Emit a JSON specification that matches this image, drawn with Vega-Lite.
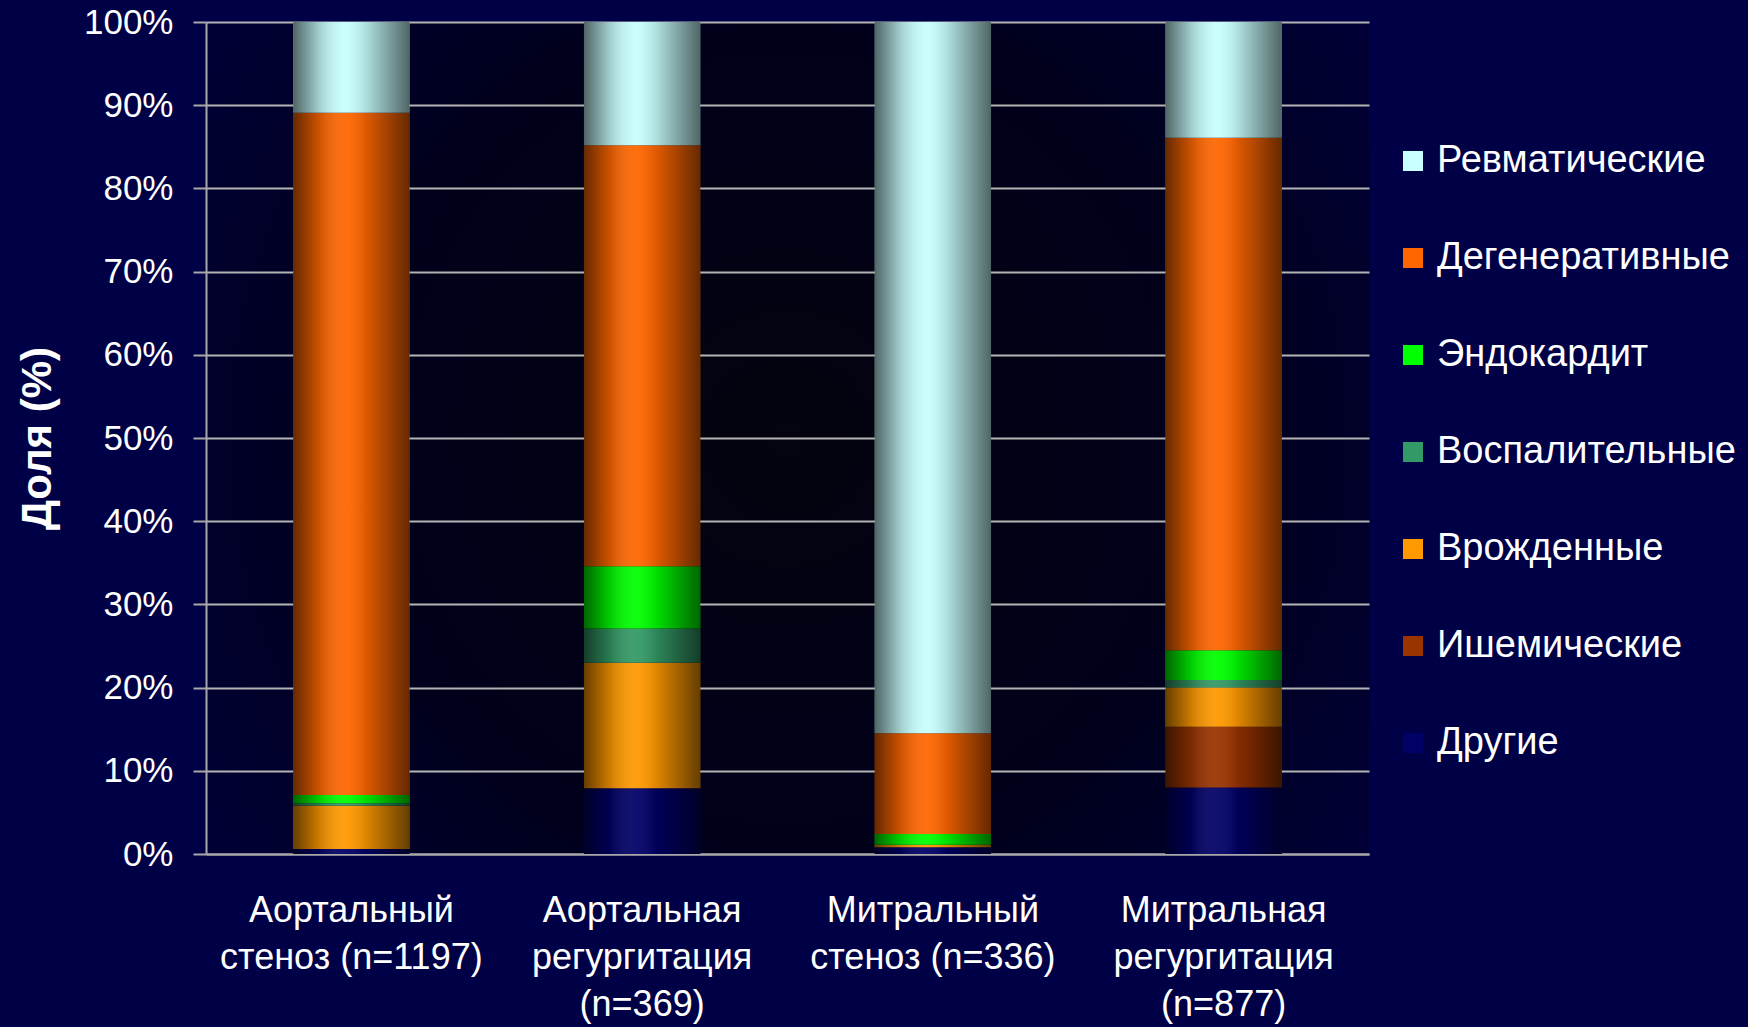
{
  "$schema": "https://vega.github.io/schema/vega-lite/v6.json",
  "autosize": {"type": "none"},
  "padding": {"left": 206, "top": 22, "right": 379, "bottom": 173},
  "width": 1163,
  "height": 832,
  "background": "#000046",
  "datasets": {
    "shares": [
      {"valve": "Аортальный|стеноз (n=1197)", "cause": "Другие", "ord": 1, "pct": 0.6},
      {"valve": "Аортальный|стеноз (n=1197)", "cause": "Врожденные", "ord": 3, "pct": 5.2},
      {"valve": "Аортальный|стеноз (n=1197)", "cause": "Воспалительные", "ord": 4, "pct": 0.3},
      {"valve": "Аортальный|стеноз (n=1197)", "cause": "Эндокардит", "ord": 5, "pct": 1.0},
      {"valve": "Аортальный|стеноз (n=1197)", "cause": "Дегенеративные", "ord": 6, "pct": 82.0},
      {"valve": "Аортальный|стеноз (n=1197)", "cause": "Ревматические", "ord": 7, "pct": 10.9},
      {"valve": "Аортальная|регургитация|(n=369)", "cause": "Другие", "ord": 1, "pct": 7.9},
      {"valve": "Аортальная|регургитация|(n=369)", "cause": "Врожденные", "ord": 3, "pct": 15.1},
      {"valve": "Аортальная|регургитация|(n=369)", "cause": "Воспалительные", "ord": 4, "pct": 4.1},
      {"valve": "Аортальная|регургитация|(n=369)", "cause": "Эндокардит", "ord": 5, "pct": 7.5},
      {"valve": "Аортальная|регургитация|(n=369)", "cause": "Дегенеративные", "ord": 6, "pct": 50.6},
      {"valve": "Аортальная|регургитация|(n=369)", "cause": "Ревматические", "ord": 7, "pct": 14.8},
      {"valve": "Митральный|стеноз (n=336)", "cause": "Другие", "ord": 1, "pct": 0.8},
      {"valve": "Митральный|стеноз (n=336)", "cause": "Врожденные", "ord": 3, "pct": 0.3},
      {"valve": "Митральный|стеноз (n=336)", "cause": "Эндокардит", "ord": 5, "pct": 1.3},
      {"valve": "Митральный|стеноз (n=336)", "cause": "Дегенеративные", "ord": 6, "pct": 12.1},
      {"valve": "Митральный|стеноз (n=336)", "cause": "Ревматические", "ord": 7, "pct": 85.5},
      {"valve": "Митральная|регургитация|(n=877)", "cause": "Другие", "ord": 1, "pct": 8.0},
      {"valve": "Митральная|регургитация|(n=877)", "cause": "Ишемические", "ord": 2, "pct": 7.3},
      {"valve": "Митральная|регургитация|(n=877)", "cause": "Врожденные", "ord": 3, "pct": 4.7},
      {"valve": "Митральная|регургитация|(n=877)", "cause": "Воспалительные", "ord": 4, "pct": 0.9},
      {"valve": "Митральная|регургитация|(n=877)", "cause": "Эндокардит", "ord": 5, "pct": 3.6},
      {"valve": "Митральная|регургитация|(n=877)", "cause": "Дегенеративные", "ord": 6, "pct": 61.6},
      {"valve": "Митральная|регургитация|(n=877)", "cause": "Ревматические", "ord": 7, "pct": 13.9}
    ],
    "totals": [
      {"valve": "Аортальный|стеноз (n=1197)", "total": 100},
      {"valve": "Аортальная|регургитация|(n=369)", "total": 100},
      {"valve": "Митральный|стеноз (n=336)", "total": 100},
      {"valve": "Митральная|регургитация|(n=877)", "total": 100}
    ]
  },
  "config": {
    "font": "Liberation Sans",
    "view": {
      "stroke": null,
      "fill": {"gradient": "radial", "x1": 0.5, "y1": 0.5, "r1": 0, "x2": 0.5, "y2": 0.5, "r2": 0.75,
        "stops": [{"offset": 0, "color": "#04040e"}, {"offset": 0.5, "color": "#00001c"}, {"offset": 1, "color": "#000046"}]}
    }
  },
  "layer": [
    {
      "data": {"name": "shares"},
      "mark": {"type": "bar", "width": {"band": 0.4}},
      "encoding": {
        "x": {
          "field": "valve", "type": "nominal", "sort": null,
          "scale": {"paddingInner": 0, "paddingOuter": 0},
          "axis": {
            "title": null, "labelAngle": 0, "labelExpr": "split(datum.label, '|')",
            "labelFontSize": 36, "labelLineHeight": 47, "labelColor": "#ffffff", "labelLimit": 500,
            "labelPadding": 39, "labelBaseline": "top", "ticks": false,
            "domainColor": "#a8a8a8", "domainWidth": 2, "grid": false
          }
        },
        "y": {
          "field": "pct", "type": "quantitative", "stack": "zero",
          "scale": {"domain": [0, 100], "nice": false},
          "axis": {
            "title": "Доля (%)", "titleFontSize": 42, "titleFontWeight": "bold", "titleColor": "#ffffff",
            "titleAngle": 270, "titleX": -169, "titleY": 416, "titleAlign": "center", "titleBaseline": "middle",
            "values": [0, 10, 20, 30, 40, 50, 60, 70, 80, 90, 100],
            "labelExpr": "datum.value + '%'", "labelFontSize": 35, "labelColor": "#ffffff",
            "labelPadding": 20, "tickSize": 13, "tickColor": "#a8a8a8", "tickWidth": 2,
            "domainColor": "#a8a8a8", "domainWidth": 2,
            "grid": true, "gridColor": "#b4b4b4", "gridWidth": 2
          }
        },
        "color": {
          "field": "cause", "type": "nominal",
          "scale": {
            "domain": ["Ревматические", "Дегенеративные", "Эндокардит", "Воспалительные", "Врожденные", "Ишемические", "Другие"],
            "range": ["#c8ffff", "#ff6600", "#00ff00", "#339966", "#ff9900", "#993300", "#000066"]
          },
          "legend": {
            "title": null, "orient": "none", "legendX": 1188, "legendY": 120,
            "labelFontSize": 38, "labelColor": "#ffffff", "labelFont": "Liberation Sans",
            "symbolType": "square", "symbolSize": 400, "symbolStrokeWidth": 0, "symbolOpacity": 1,
            "labelOffset": 5, "rowPadding": 59, "labelLimit": 400
          }
        },
        "order": {"field": "ord", "type": "quantitative", "sort": "ascending"}
      }
    },
    {
      "data": {"name": "totals"},
      "mark": {
        "type": "bar", "width": {"band": 0.4},
        "fill": {"gradient": "linear", "x1": 0, "y1": 0, "x2": 1, "y2": 0,
          "stops": [
            {"offset": 0, "color": "rgba(0,0,0,0.6)"},
            {"offset": 0.22, "color": "rgba(0,0,0,0.2)"},
            {"offset": 0.45, "color": "rgba(255,255,255,0.06)"},
            {"offset": 0.62, "color": "rgba(0,0,0,0.12)"},
            {"offset": 1, "color": "rgba(0,0,0,0.6)"}
          ]}
      },
      "encoding": {
        "x": {"field": "valve", "type": "nominal", "sort": null},
        "y": {"field": "total", "type": "quantitative", "stack": null}
      }
    }
  ]
}
